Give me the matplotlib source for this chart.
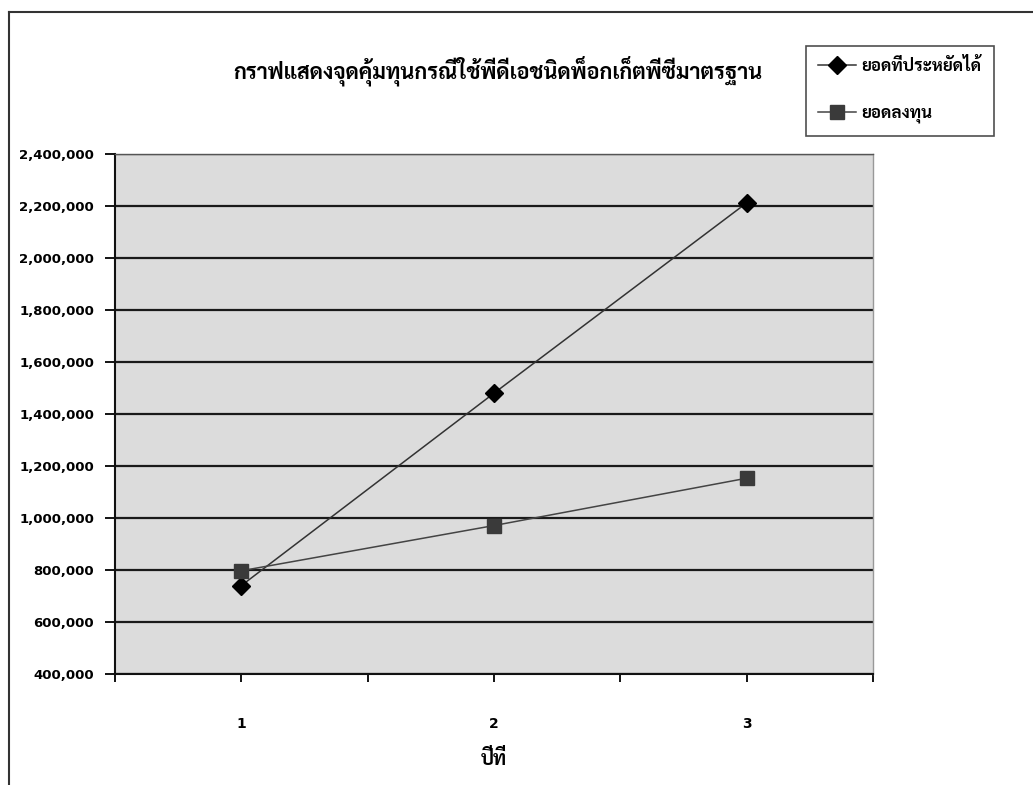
import matplotlib
matplotlib.use("Agg")
import matplotlib.pyplot as plt
from matplotlib import font_manager
from matplotlib.lines import Line2D
from matplotlib.ticker import FuncFormatter

# data
years = [1, 2, 3]
savings = [740000, 1480000, 2212000]      # ยอดที่ประหยัดได้
investment = [797000, 971000, 1153000]    # ยอดลงทุน
y_ticks = [400000, 600000, 800000, 1000000, 1200000, 1400000,
           1600000, 1800000, 2000000, 2200000, 2400000]

title = "กราฟแสดงจุดคุ้มทุนกรณีใช้พีดีเอชนิดพ็อกเก็ตพีซีมาตรฐาน"
label_savings = "ยอดที่ประหยัดได้"
label_invest = "ยอดลงทุน"
xlabel = "ปีที่"

installed = {f.name for f in font_manager.fontManager.ttflist}
thai_family = next((p for p in ["Sarabun", "Taviraj", "Noto Sans Thai Looped",
                                "Noto Serif Thai"] if p in installed), "DejaVu Sans")
fam = [thai_family, "DejaVu Sans"]

fig = plt.figure(figsize=(10.33, 7.85), dpi=100)
ax = fig.add_axes([0.1113, 0.1414, 0.7338, 0.6624])
ax.set_facecolor("#dcdcdc")

ax.plot(years, savings, color="#333333", lw=1.1, marker="D", ms=9,
        mfc="black", mec="black", label=label_savings, zorder=4)
ax.plot(years, investment, color="#444444", lw=1.1, marker="s", ms=10.5,
        mfc="#3a3a3a", mec="#3a3a3a", label=label_invest, zorder=4)

ax.set_xlim(0.5, 3.5)
ax.set_ylim(400000, 2400000)
ax.set_yticks(y_ticks)
ax.yaxis.set_major_formatter(FuncFormatter(lambda v, p: f"{int(v):,}"))
ax.set_xticks(years)
ax.set_xticks([0.5, 1.5, 2.5, 3.5], minor=True)

ax.grid(axis="y", color="#1a1a1a", lw=1.6)
ax.set_axisbelow(True)

for s in ["left", "bottom"]:
    ax.spines[s].set_color("#111111")
    ax.spines[s].set_linewidth(1.5)
ax.spines["top"].set_color("#555555")
ax.spines["top"].set_linewidth(1.0)
ax.spines["right"].set_color("#999999")
ax.spines["right"].set_linewidth(1.0)

ax.tick_params(axis="y", direction="out", length=7, width=1.3, pad=8,
               labelsize=9.5)
ax.tick_params(axis="x", which="both", direction="out", length=6, width=1.3,
               pad=25, labelsize=10)
for t in ax.get_yticklabels() + ax.get_xticklabels():
    t.set_fontweight("bold")
    t.set_family("DejaVu Sans")

ax.set_xlabel(xlabel, family=fam, fontsize=14, fontweight="bold", labelpad=13)

fig.text(0.482, 0.91, title, family=fam, fontsize=15.5, fontweight="bold",
         ha="center", va="center")

leg = ax.legend(loc="upper left", bbox_to_anchor=(0.7803, 0.9414),
                bbox_transform=fig.transFigure, frameon=True, fancybox=False,
                prop={"family": fam, "size": 12.2, "weight": "bold"},
                handlelength=2.2, borderpad=0.72, labelspacing=1.75,
                handletextpad=0.35, borderaxespad=0)
leg.get_frame().set_edgecolor("#222222")
leg.get_frame().set_linewidth(1.2)

# outer chart border (left and top edges)
fig.add_artist(Line2D([9 / 1033, 9 / 1033], [0, 1 - 12 / 785],
                      transform=fig.transFigure, color="#333333", lw=1.5))
fig.add_artist(Line2D([9 / 1033, 1], [1 - 12 / 785, 1 - 12 / 785],
                      transform=fig.transFigure, color="#333333", lw=1.5))

fig.savefig("out.png", dpi=100)
